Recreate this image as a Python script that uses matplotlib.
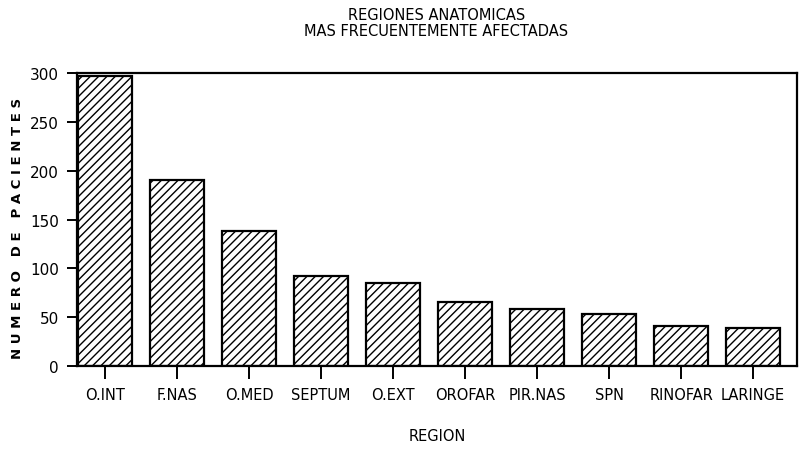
import matplotlib.pyplot as plt
import matplotlib as mpl

# Datos
regiones = ['O.INT', 'F.NAS', 'O.MED', 'SEPTUM', 'O.EXT',
            'OROFAR', 'PIR.NAS', 'SPN', 'RINOFAR', 'LARINGE']
pacientes = [297, 191, 138, 92, 85, 66, 58, 53, 41, 39]
ticks_y = [0, 50, 100, 150, 200, 250, 300]

mpl.rcParams['hatch.linewidth'] = 1.0
fuente = ['Liberation Sans Narrow', 'DejaVu Sans']

fig = plt.figure(figsize=(7.99, 4.56), dpi=100)
ax = fig.add_axes([0.0964, 0.195, 0.9011, 0.6425])

ax.bar(range(len(regiones)), pacientes, width=0.74, color='white',
       edgecolor='black', hatch='////', linewidth=1.6)

ax.set_xlim(-0.39, 9.61)
ax.set_ylim(0, 300)
ax.set_yticks(ticks_y)
ax.set_yticklabels([str(t) for t in ticks_y], family=fuente, fontsize=11)
ax.set_xticks(range(len(regiones)))
ax.set_xticklabels(regiones, family=fuente, fontsize=10.5)
ax.tick_params(axis='both', direction='out', length=7, width=1.4, pad=6)
ax.tick_params(axis='x', length=9)

for lado in ['left', 'bottom', 'top', 'right']:
    ax.spines[lado].set_linewidth(1.6)
ax.spines['top'].set_linestyle((0, (14, 1)))

fig.text(0.546, 0.965, 'REGIONES ANATOMICAS', ha='center', va='center',
         family=fuente, fontsize=10.5)
fig.text(0.546, 0.932, 'MAS FRECUENTEMENTE AFECTADAS', ha='center', va='center',
         family=fuente, fontsize=10.5)
fig.text(0.547, 0.043, 'REGION', ha='center', va='center',
         family=fuente, fontsize=10.5)
fig.text(0.022, 0.5, 'N U M E R O   D E   P A C I E N T E S', rotation=90,
         ha='center', va='center', fontsize=9.5, fontweight='bold',
         family='DejaVu Sans')

fig.savefig('out.png', dpi=100)
